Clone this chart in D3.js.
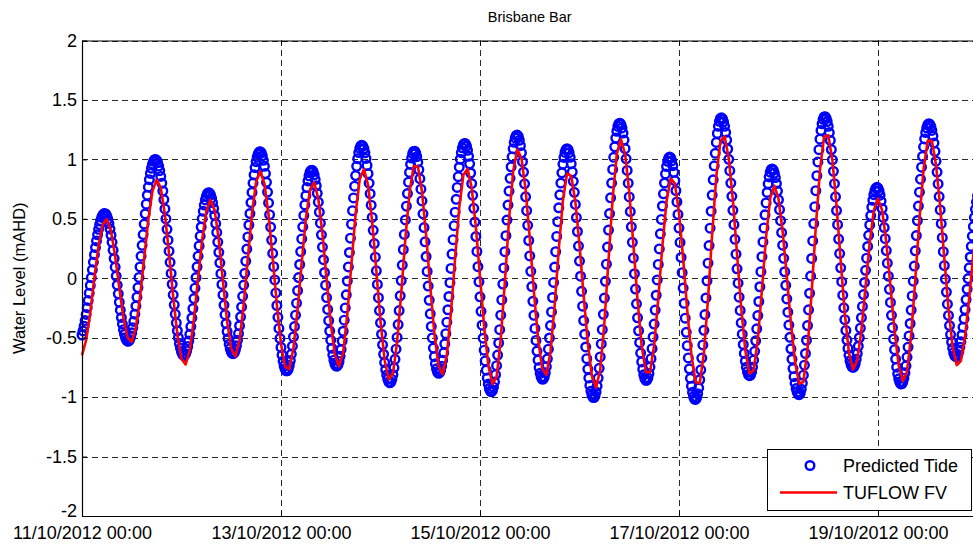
<!DOCTYPE html>
<html>
<head>
<meta charset="utf-8">
<script src="https://cdn.jsdelivr.net/npm/d3@7"></script>
<style>
  body { margin: 0; background: #fff; }
  svg { display: block; font-family: Arial, "Liberation Sans", Helvetica, sans-serif; }
</style>
</head>
<body>
<svg id="chart" width="973" height="548"></svg>
<script>
// High / low water turning points, hours after 11/10/2012 00:00, level in mAHD.
// The first and last entries lie just outside the plotted window.
const tideHours  = [-1.0, 5.48, 11.09, 17.68, 24.60, 30.56, 36.42, 42.93, 49.37, 55.40, 61.43,
                    67.46, 74.29, 80.15, 86.04, 92.31, 98.72, 104.92, 111.12, 116.98, 123.42,
                    129.69, 136.11, 141.75, 147.93, 154.20, 161.05, 166.43, 172.94, 179.14,
                    185.96, 191.75, 197.61, 204.29, 210.80, 217.10];
const tideLevels = [-0.54, 0.545, -0.53, 1.00, -0.65, 0.72, -0.635, 1.065, -0.78, 0.91, -0.74,
                    1.12, -0.88, 1.07, -0.80, 1.135, -0.955, 1.205, -0.85, 1.09, -1.005,
                    1.305, -0.86, 1.02, -1.02, 1.35, -0.82, 0.92, -0.98, 1.36,
                    -0.75, 0.765, -0.89, 1.30, -0.66, 0.80];

const modelHours  = [-0.4, 5.79, 11.75, 18.09, 24.77, 31.04, 36.83, 42.93, 49.61, 55.79, 61.99,
                     67.85, 74.29, 80.49, 86.83, 92.69, 99.30, 105.16, 111.75, 117.39, 123.97,
                     129.93, 136.52, 142.31, 148.58, 154.61, 161.43, 166.91, 173.49, 179.52,
                     186.13, 191.99, 198.19, 204.46, 211.29, 217.56];
const modelLevels = [-0.66, 0.50, -0.54, 0.83, -0.73, 0.66, -0.66, 0.90, -0.78, 0.81, -0.74,
                     0.92, -0.86, 0.97, -0.81, 0.93, -0.90, 1.087, -0.82, 0.90, -0.92,
                     1.17, -0.82, 0.85, -0.91, 1.21, -0.82, 0.78, -0.91, 1.23,
                     -0.77, 0.67, -0.87, 1.185, -0.74, 0.72];

const tideStepMinutes  = 15;   // predicted tide output interval
const modelStepMinutes = 60;   // model output interval

const yTicks = [-2, -1.5, -1, -0.5, 0, 0.5, 1, 1.5, 2];
const yTickLabels = ["-2", "-1.5", "-1", "-0.5", "0", "0.5", "1", "1.5", "2"];
const xTickDates = ["2012-10-11", "2012-10-13", "2012-10-15", "2012-10-17", "2012-10-19"];
const seriesNames = ["Predicted Tide", "TUFLOW FV"];
const chartTitle = "Brisbane Bar";
const yTitle = "Water Level (mAHD)";

const parseDay = d3.timeParse("%Y-%m-%d");
const start = parseDay("2012-10-11");
const end = parseDay("2012-10-20");

// Level between consecutive turning points follows a half-cosine.
function levelAt(hours, levels, t) {
  let i = d3.bisectRight(hours, t) - 1;
  i = Math.max(0, Math.min(hours.length - 2, i));
  const t0 = hours[i], t1 = hours[i + 1];
  const v0 = levels[i], v1 = levels[i + 1];
  const f = (t - t0) / (t1 - t0);
  return v0 + (v1 - v0) * (1 - Math.cos(Math.PI * f)) / 2;
}

function sample(hours, levels, stepMin) {
  const out = [];
  const total = (end - start) / 36e5;
  for (let m = 0; m <= total * 60; m += stepMin) {
    out.push({ date: d3.timeMinute.offset(start, m), value: levelAt(hours, levels, m / 60) });
  }
  return out;
}

const tide = sample(tideHours, tideLevels, tideStepMinutes);
const model = sample(modelHours, modelLevels, modelStepMinutes);

const svg = d3.select("#chart");
const margin = { left: 82, top: 40.5, right: 977.5, bottom: 516 };

const x = d3.scaleTime().domain([start, end]).range([margin.left, margin.right]);
const y = d3.scaleLinear().domain([-2, 2]).range([margin.bottom, margin.top]);

const plotW = margin.right - margin.left;
const plotH = margin.bottom - margin.top;
const xTicks = xTickDates.map(parseDay);
const fmt = d3.timeFormat("%d/%m/%Y %H:%M");

// white plot background
svg.append("rect")
  .attr("x", margin.left).attr("y", margin.top)
  .attr("width", plotW).attr("height", plotH)
  .attr("fill", "#fff");

// dashed grid
const grid = svg.append("g").attr("class", "grid");
grid.append("g")
  .attr("transform", `translate(${margin.left},0)`)
  .call(d3.axisLeft(y).tickValues(yTicks).tickSize(-plotW).tickFormat(""))
  .call(g => g.select(".domain").remove());
grid.append("g")
  .attr("transform", `translate(0,${margin.bottom})`)
  .call(d3.axisBottom(x).tickValues(xTicks).tickSize(-plotH).tickFormat(""))
  .call(g => g.select(".domain").remove());
grid.selectAll("line")
  .attr("stroke", "#2a2a2a")
  .attr("stroke-width", 1)
  .attr("stroke-dasharray", "6,4")
  .attr("shape-rendering", "crispEdges");

// data
const clipId = "plot-clip";
svg.append("clipPath").attr("id", clipId)
  .append("rect")
  .attr("x", margin.left - 6).attr("y", margin.top)
  .attr("width", plotW + 12).attr("height", plotH);

const dataG = svg.append("g").attr("clip-path", `url(#${clipId})`);

dataG.append("g")
  .selectAll("circle")
  .data(tide)
  .join("circle")
  .attr("cx", d => x(d.date))
  .attr("cy", d => y(d.value))
  .attr("r", 4.3)
  .attr("fill", "none")
  .attr("stroke", "#0000ff")
  .attr("stroke-width", 2.4);

const line = d3.line().x(d => x(d.date)).y(d => y(d.value));
dataG.append("path")
  .datum(model)
  .attr("d", line)
  .attr("fill", "none")
  .attr("stroke", "#ff0000")
  .attr("stroke-width", 2.6)
  .attr("stroke-linejoin", "round");

// axes with inward ticks
const yAxis = svg.append("g")
  .attr("transform", `translate(${margin.left},0)`)
  .call(d3.axisLeft(y).tickValues(yTicks).tickFormat((d, i) => yTickLabels[i])
        .tickSizeInner(-5).tickSizeOuter(0).tickPadding(5));
const xAxis = svg.append("g")
  .attr("transform", `translate(0,${margin.bottom})`)
  .call(d3.axisBottom(x).tickValues(xTicks).tickFormat(fmt)
        .tickSizeInner(-5).tickSizeOuter(0).tickPadding(10));
const topAxis = svg.append("g")
  .attr("transform", `translate(0,${margin.top})`)
  .call(d3.axisTop(x).tickValues(xTicks).tickFormat("").tickSizeInner(-5).tickSizeOuter(0));

[yAxis, xAxis, topAxis].forEach(g => {
  g.select(".domain").attr("stroke", "#000").attr("stroke-width", 1.2);
  g.selectAll(".tick line").attr("stroke", "#000");
  g.selectAll("text").attr("fill", "#000").attr("font-size", 18)
    .attr("font-family", "Arial, 'Liberation Sans', Helvetica, sans-serif");
});
xAxis.selectAll("text").attr("dy", "0.71em");
// lowest y label sits a little higher so it clears the date labels
yAxis.selectAll(".tick text").filter(d => d === -2).attr("dy", "0.05em");

// right border (falls at the edge of the view)
svg.append("line")
  .attr("x1", margin.right).attr("x2", margin.right)
  .attr("y1", margin.top).attr("y2", margin.bottom)
  .attr("stroke", "#000").attr("stroke-width", 1.2);

// title and axis label
svg.append("text")
  .attr("x", (margin.left + margin.right) / 2)
  .attr("y", 22)
  .attr("text-anchor", "middle")
  .attr("font-size", 14.5)
  .text(chartTitle);

svg.append("text")
  .attr("transform", `translate(25,${(margin.top + margin.bottom) / 2}) rotate(-90)`)
  .attr("text-anchor", "middle")
  .attr("font-size", 16.5)
  .text(yTitle);

// legend
const legend = svg.append("g");
legend.append("rect")
  .attr("x", 767.5).attr("y", 449.5)
  .attr("width", 204).attr("height", 61)
  .attr("fill", "#fff").attr("stroke", "#000").attr("stroke-width", 1);
legend.append("circle")
  .attr("cx", 810).attr("cy", 465.5).attr("r", 4.3)
  .attr("fill", "none").attr("stroke", "#0000ff").attr("stroke-width", 2.4);
legend.append("line")
  .attr("x1", 780).attr("x2", 837).attr("y1", 492.5).attr("y2", 492.5)
  .attr("stroke", "#ff0000").attr("stroke-width", 2.6);
legend.selectAll("text.lab")
  .data(seriesNames)
  .join("text")
  .attr("class", "lab")
  .attr("x", 843)
  .attr("y", (d, i) => 472 + i * 27)
  .attr("font-size", 18)
  .attr("fill", "#000")
  .text(d => d);
</script>
</body>
</html>
